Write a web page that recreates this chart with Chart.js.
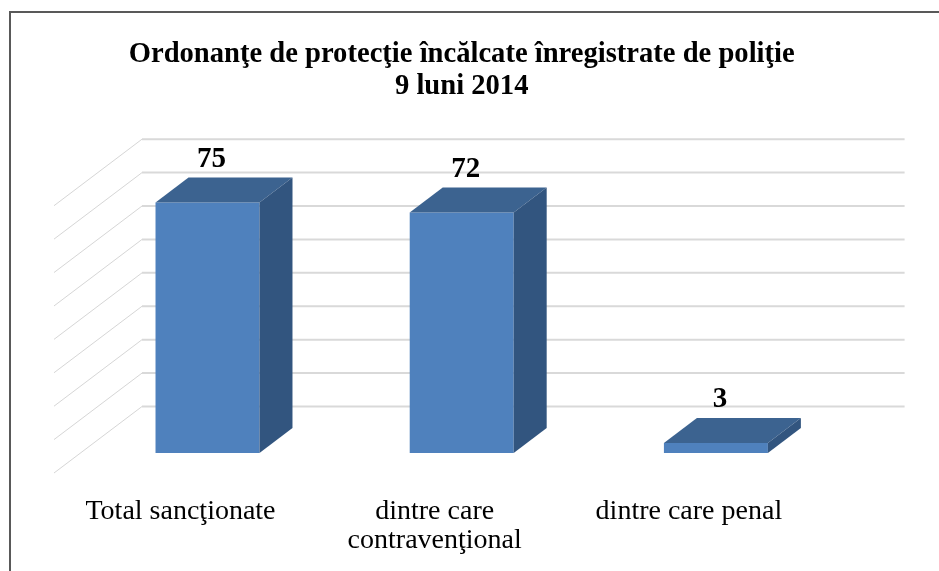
<!DOCTYPE html>
<html>
<head>
<meta charset="utf-8">
<script src="https://cdn.jsdelivr.net/npm/chart.js@4"></script>
<style>
  html, body { margin: 0; padding: 0; background: #fff; }
  #grafic { display: block; }
</style>
</head>
<body>
<canvas id="grafic" width="939" height="571"></canvas>
<script>
// Date
const categorii = [
    "Total sancţionate",
    ["dintre care", "contravenţional"],
    "dintre care penal"
];
const valori = [75, 72, 3];
const titlu = ["Ordonanţe de protecţie încălcate înregistrate de poliţie", "9 luni 2014"];
const liniiGrila = [0, 10, 20, 30, 40, 50, 60, 70, 80];

// Culori 3D
const culoareFata = "#4F81BD";
const culoareSus = "#3C6390";
const culoareLaterala = "#32557F";
const culoareGrila = "#d9d9d9";

// Adancime: peretele din spate si marginea din fata a podelei, fata de planul barelor
const spate = { dx: 61.6, dy: -46.5 };
const fata = { dx: -26.4, dy: 20 };
const adancimeBara = { dx: 33, dy: -25 };

const fontSerif = "'Liberation Serif', 'Times New Roman', serif";

// Chenar in jurul graficului
const chenar = {
    id: "chenar",
    beforeDraw(chart) {
        const ctx = chart.ctx;
        ctx.save();
        ctx.fillStyle = "#fff";
        ctx.fillRect(0, 0, chart.width, chart.height);
        ctx.strokeStyle = "#595959";
        ctx.lineWidth = 2;
        ctx.strokeRect(10, 12, chart.width + 20, chart.height + 20);
        ctx.restore();
    }
};

// Grila pe peretele din spate si pe peretele lateral
const grila3d = {
    id: "grila3d",
    beforeDatasetsDraw(chart) {
        const ctx = chart.ctx;
        const area = chart.chartArea;
        const y = chart.scales.y;
        ctx.save();
        liniiGrila.forEach(v => {
            const py = y.getPixelForValue(v);
            // perete lateral
            ctx.strokeStyle = "#d6d6d6";
            ctx.lineWidth = 1;
            ctx.beginPath();
            ctx.moveTo(area.left + fata.dx, py + fata.dy);
            ctx.lineTo(area.left + spate.dx, py + spate.dy);
            ctx.stroke();
            // perete spate
            ctx.strokeStyle = culoareGrila;
            ctx.lineWidth = 2;
            ctx.beginPath();
            ctx.moveTo(area.left + spate.dx, py + spate.dy);
            ctx.lineTo(area.right + spate.dx, py + spate.dy);
            ctx.stroke();
        });
        ctx.restore();
    }
};

// Fetele de sus si laterale ale barelor + etichetele de valoare
const bare3d = {
    id: "bare3d",
    afterDatasetsDraw(chart) {
        const ctx = chart.ctx;
        const meta = chart.getDatasetMeta(0);
        const dx = adancimeBara.dx, dy = adancimeBara.dy;
        ctx.save();
        meta.data.forEach((bar, i) => {
            const st = bar.getProps(["x", "y", "base", "width"], true);
            const left = st.x - st.width / 2;
            const right = st.x + st.width / 2;

            // sus
            ctx.fillStyle = culoareSus;
            ctx.beginPath();
            ctx.moveTo(left, st.y);
            ctx.lineTo(left + dx, st.y + dy);
            ctx.lineTo(right + dx, st.y + dy);
            ctx.lineTo(right, st.y);
            ctx.closePath();
            ctx.fill();

            // lateral
            ctx.fillStyle = culoareLaterala;
            ctx.beginPath();
            ctx.moveTo(right, st.y);
            ctx.lineTo(right + dx, st.y + dy);
            ctx.lineTo(right + dx, st.base + dy);
            ctx.lineTo(right, st.base);
            ctx.closePath();
            ctx.fill();

            // valoare
            ctx.fillStyle = "#000";
            ctx.font = "bold 29px " + fontSerif;
            ctx.textAlign = "center";
            ctx.textBaseline = "middle";
            ctx.fillText(String(valori[i]), st.x + 4, st.y + dy - 18);
        });
        ctx.restore();
    }
};

new Chart(document.getElementById("grafic"), {
    type: "bar",
    data: {
        labels: categorii,
        datasets: [{
            data: valori,
            backgroundColor: culoareFata,
            borderWidth: 0,
            barPercentage: 0.409,
            categoryPercentage: 1
        }]
    },
    options: {
        responsive: false,
        animation: false,
        layout: {
            padding: { left: 80.4, right: 96, top: 0, bottom: 0 }
        },
        plugins: {
            legend: { display: false },
            tooltip: { enabled: false },
            title: {
                display: true,
                text: titlu,
                color: "#000",
                font: { family: fontSerif, size: 28.6, weight: "bold", lineHeight: "32px" },
                padding: { top: 39, bottom: 82.7 }
            }
        },
        scales: {
            x: {
                grid: { display: false, drawTicks: false },
                border: { display: false },
                // inaltime fixa, ca zero sa cada la y=453
                afterFit(scale) { scale.height = 118; },
                ticks: {
                    color: "#000",
                    padding: 44.5,
                    labelOffset: -27,
                    maxRotation: 0,
                    autoSkip: false,
                    font: { family: fontSerif, size: 28, lineHeight: "29px" }
                }
            },
            y: {
                display: false,
                min: 0,
                max: 80
            }
        }
    },
    plugins: [chenar, grila3d, bare3d]
});
</script>
</body>
</html>
